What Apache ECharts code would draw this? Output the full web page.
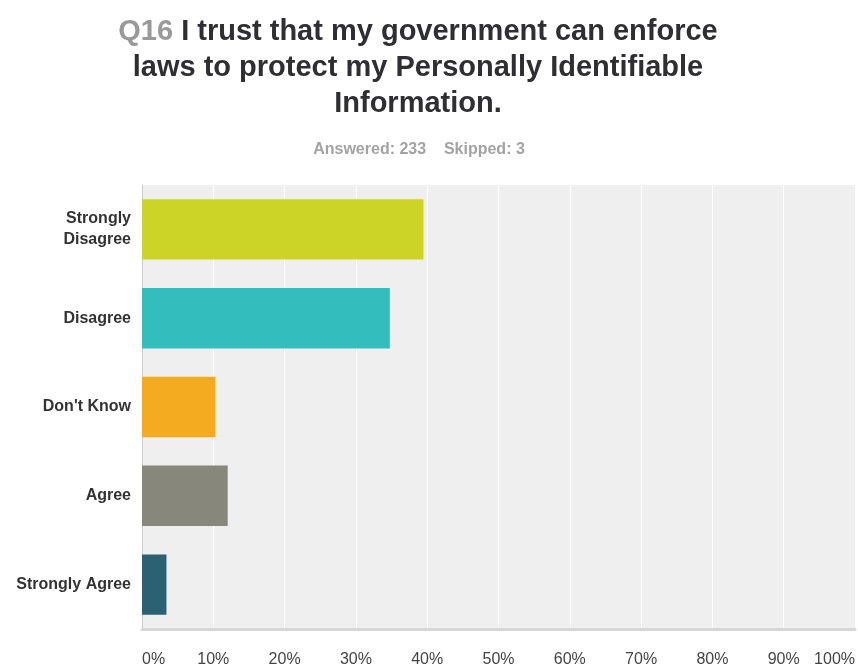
<!DOCTYPE html>
<html><head><meta charset="utf-8">
<script src="https://cdn.jsdelivr.net/npm/echarts@6/dist/echarts.min.js"></script>
<style>html,body{margin:0;padding:0;background:#fff}#c{width:858px;height:668px}</style>
</head><body><div id="c"></div>
<script>
const categories = ['Strongly\nDisagree', 'Disagree', "Don't Know", 'Agree', 'Strongly Agree'];
const percents = [39.48, 34.76, 10.30, 12.02, 3.43];
const colors = ['#ccd426', '#33bdbd', '#f5ab1f', '#87887b', '#2c6173'];
const tickLabels = ['0%', '10%', '20%', '30%', '40%', '50%', '60%', '70%', '80%', '90%', '100%'];
const titleQ = 'Q16';
const titleLines = ['I trust that my government can enforce', 'laws to protect my Personally Identifiable', 'Information.'];
const subtitle = 'Answered: 233    Skipped: 3';

const FONT = 'Liberation Sans, Arial, sans-serif';
const chart = echarts.init(document.getElementById('c'), null, {renderer: 'canvas'});
chart.setOption({
  animation: false,
  backgroundColor: '#fff',
  title: [{
    text: '{q|' + titleQ + '} ' + titleLines[0] + '\n' + titleLines[1] + '\n' + titleLines[2],
    left: 413, top: 9, textAlign: 'center',
    textStyle: {
      fontFamily: FONT, fontWeight: 'bold', fontSize: 29,
      color: '#2f2f33', lineHeight: 36, align: 'center',
      rich: { q: { color: '#999999', fontSize: 29, fontWeight: 'bold', fontFamily: FONT, lineHeight: 36 } }
    }
  }, {
    text: subtitle,
    left: 414, top: 137, textAlign: 'center',
    textStyle: { fontFamily: FONT, fontWeight: 'bold', fontSize: 16, color: '#a3a3a3' }
  }],
  grid: { left: 142, right: 3, top: 185, bottom: 30, containLabel: false,
    show: true, backgroundColor: '#efefef', borderWidth: 0 },
  xAxis: {
    type: 'value', min: 0, max: 100, interval: 10,
    axisLine: { show: true, onZero: false, lineStyle: { color: '#d6d6d6', width: 3 } },
    axisTick: { show: false },
    splitLine: { show: true, lineStyle: { color: '#ffffff', width: 1 } },
    axisLabel: {
      margin: 23, fontSize: 16, color: '#444', fontFamily: FONT,
      alignMinLabel: 'left', alignMaxLabel: 'right',
      formatter: function (v) { return tickLabels[Math.round(v / 10)]; }
    }
  },
  yAxis: {
    type: 'category', data: categories, inverse: true,
    axisLine: { show: true, lineStyle: { color: '#cccccc', width: 1 } },
    axisTick: { show: false },
    axisLabel: { margin: 11, fontSize: 16, fontWeight: 'bold', color: '#333',
      fontFamily: FONT, lineHeight: 21, align: 'right' }
  },
  series: [{
    type: 'bar', barWidth: '68%',
    data: percents.map((v, i) => ({ value: v, itemStyle: { color: colors[i] } })),
    label: { show: false }
  }]
});
</script></body></html>
